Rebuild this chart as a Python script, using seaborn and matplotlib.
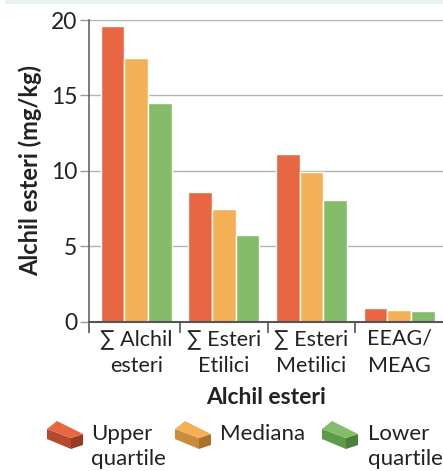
import matplotlib
matplotlib.use("Agg")
import matplotlib.pyplot as plt
from matplotlib.patches import Polygon, Rectangle
import seaborn as sns
import pandas as pd

# Data
categories = ["∑ Alchil\nesteri", "∑ Esteri\nEtilici", "∑ Esteri\nMetilici", "EEAG/\nMEAG"]
series = ["Upper\nquartile", "Mediana", "Lower\nquartile"]
upper_quartile = [19.6, 8.6, 11.1, 0.9]
mediana = [17.5, 7.5, 9.9, 0.8]
lower_quartile = [14.5, 5.75, 8.05, 0.72]
y_ticks = [0, 5, 10, 15, 20]

colors = ["#E96642", "#F4B054", "#84BC6A"]
side_colors = [("#B54A2E", "#963C24"), ("#C98B3C", "#A9722F"), ("#5E9A4A", "#4B7F3B")]

df = pd.DataFrame({
    "cat": categories * 3,
    "series": [series[0]] * 4 + [series[1]] * 4 + [series[2]] * 4,
    "val": upper_quartile + mediana + lower_quartile,
})

sns.set_theme(style="white")
plt.rcParams["font.family"] = ["Lato", "DejaVu Sans"]

W, H = 443, 471
fig = plt.figure(figsize=(W / 100, H / 100), dpi=100)
ax = fig.add_axes([89 / W, 1 - 321.8 / H, (W - 89) / W, (321.8 - 20) / H])

sns.barplot(data=df, x="cat", y="val", hue="series", palette=colors,
            width=0.81, gap=0, saturation=1, ax=ax, legend=False, zorder=3)

ax.set_xlim(-0.54, 3.5)
ax.set_ylim(0, 20)
ax.set_yticks(y_ticks)
ax.yaxis.grid(True, color="#B3B3B3", linewidth=1.0, zorder=0)
ax.set_axisbelow(True)

for s in ["top", "right"]:
    ax.spines[s].set_visible(False)
ax.spines["left"].set_color("#666666")
ax.spines["bottom"].set_color("#555555")
ax.spines["left"].set_linewidth(1.2)
ax.spines["bottom"].set_linewidth(1.5)
ax.spines["bottom"].set_zorder(5)

ax.tick_params(axis="y", which="major", direction="out", length=6.5, width=1,
               color="#999999", labelsize=16.5, labelcolor="#222222", pad=2, left=True)
ax.tick_params(axis="x", which="major", length=0, labelsize=15.5,
               labelcolor="#222222", pad=5)
ax.set_xticks(range(len(categories)))
ax.set_xticklabels(categories, linespacing=1.45)
ax.set_xticks([-0.54, 0.5, 1.5, 2.5], minor=True)
ax.tick_params(axis="x", which="minor", direction="out", length=8, width=1.2,
               color="#555555", bottom=True)

ax.set_xlabel("Alchil esteri", fontsize=16.5, fontweight="bold", color="#222222", labelpad=8)
ax.set_ylabel("Alchil esteri (mg/kg)", fontsize=17, fontweight="bold", color="#222222", labelpad=6)

# Thin band along the top edge
fig.patches.append(Rectangle((5 / W, 1 - 4 / H), 1, 4 / H, transform=fig.transFigure,
                             facecolor="#EAF4EE", edgecolor="none"))


def brick(x0, y0, top, left, right):
    def pts(p):
        return [((x0 + a) / W, 1 - (y0 + b) / H) for a, b in p]
    faces = [
        ([(0, 8), (24, 17), (24, 28), (0, 18)], left),
        ([(24, 17), (36, 13), (36, 24), (24, 28)], right),
        ([(0, 8), (10, 0), (36, 13), (24, 17)], top),
    ]
    for p, c in faces:
        fig.patches.append(Polygon(pts(p), closed=True, transform=fig.transFigure,
                                   facecolor=c, edgecolor="none"))


legend_pos = [(47, 91), (175, 220), (322, 368)]
for (bx, tx), lab, c, (lc, rc) in zip(legend_pos, series, colors, side_colors):
    brick(bx, 421, c, lc, rc)
    fig.text(tx / W, 1 - 424 / H, lab, ha="left", va="top", fontsize=16,
             color="#222222", linespacing=1.3)

fig.savefig("out.png", dpi=100)
